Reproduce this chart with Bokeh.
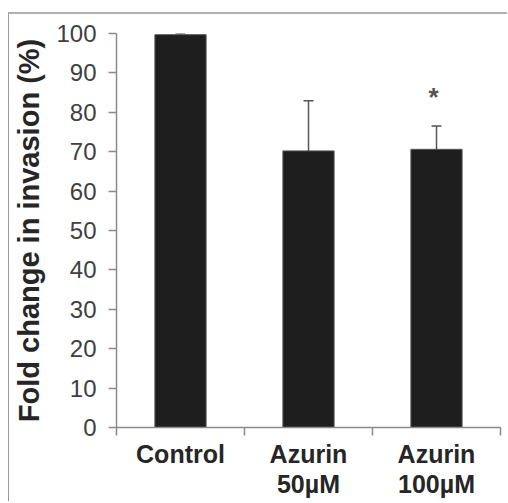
from bokeh.plotting import figure
from bokeh.models import ColumnDataSource, Whisker, TeeHead, FixedTicker, Range1d
from bokeh.core.properties import value
from bokeh.embed import file_html
from bokeh.resources import INLINE

categories = ["Control", "Azurin\n50µM", "Azurin\n100µM"]
means = [99.7, 70.2, 70.6]
err_upper = [0.3, 12.7, 5.9]
y_ticks = [0, 10, 20, 30, 40, 50, 60, 70, 80, 90, 100]
star_label = "*"
star_index = 2
star_y = 84.0

xs = [i + 0.5 for i in range(len(categories))]
src = ColumnDataSource(dict(x=xs, top=means,
                            upper=[m + e for m, e in zip(means, err_upper)]))

p = figure(width=499, height=489, output_backend="svg", toolbar_location=None,
           x_range=Range1d(0, len(categories)), y_range=Range1d(0, 100),
           min_border_left=107, min_border_right=8, min_border_top=19,
           min_border_bottom=76)
p.styles = {"margin-left": "8px", "margin-top": "12px",
            "border-left": "1px solid #9a9a9a", "border-top": "2px solid #b0b0b0"}
p.outline_line_color = None
p.xgrid.visible = False
p.ygrid.visible = False

p.vbar(x="x", top="top", width=0.4, bottom=0, source=src,
       fill_color="#1e1e1e", line_color="#555555", line_width=1)

w = Whisker(source=src, base="x", lower="top", upper="upper",
            line_color="#555555", line_width=1.5,
            upper_head=TeeHead(size=10, line_color="#555555", line_width=1.5),
            lower_head=None)
p.add_layout(w)

p.text(x=[xs[star_index]], y=[star_y], text=[star_label], text_align="center",
       text_baseline="middle", text_font=value("Liberation Sans"), x_offset=-3,
       text_font_size="26px", text_font_style="bold", text_color="#555555")

# y axis
p.yaxis.ticker = FixedTicker(ticks=y_ticks)
p.yaxis.axis_label = "Fold change in invasion (%)"
p.yaxis.axis_label_text_font = "Liberation Sans"
p.yaxis.axis_label_text_font_style = "bold"
p.yaxis.axis_label_text_font_size = "29px"
p.yaxis.axis_label_text_color = "#262626"
p.yaxis.axis_label_standoff = 8
p.yaxis.major_label_text_font = "Liberation Sans"
p.yaxis.major_label_text_font_size = "24px"
p.yaxis.major_label_text_color = "#404040"
p.yaxis.major_label_standoff = 12
p.yaxis.major_tick_out = 8
p.yaxis.major_tick_in = 0
p.yaxis.minor_tick_out = 0
p.yaxis.minor_tick_in = 0
p.yaxis.axis_line_color = "#8a8a8a"
p.yaxis.axis_line_width = 1.5
p.yaxis.major_tick_line_color = "#8a8a8a"
p.yaxis.major_tick_line_width = 1.5

# x axis: labels at centres, ticks at boundaries
p.xaxis.ticker = FixedTicker(ticks=xs, minor_ticks=list(range(len(categories) + 1)))
p.xaxis.major_label_overrides = {x: c for x, c in zip(xs, categories)}
p.xaxis.major_label_text_font = "Liberation Sans"
p.xaxis.major_label_text_font_style = "bold"
p.xaxis.major_label_text_font_size = "25px"
p.xaxis.major_label_text_line_height = 1.1
p.xaxis.major_label_text_color = "#262626"
p.xaxis.major_label_standoff = 4
p.xaxis.major_tick_out = 0
p.xaxis.major_tick_in = 0
p.xaxis.minor_tick_out = 8
p.xaxis.minor_tick_in = 0
p.xaxis.minor_tick_line_color = "#8a8a8a"
p.xaxis.minor_tick_line_width = 1.5
p.xaxis.axis_line_color = "#8a8a8a"
p.xaxis.axis_line_width = 1.5

open("out.html", "w").write(file_html(p, INLINE))
